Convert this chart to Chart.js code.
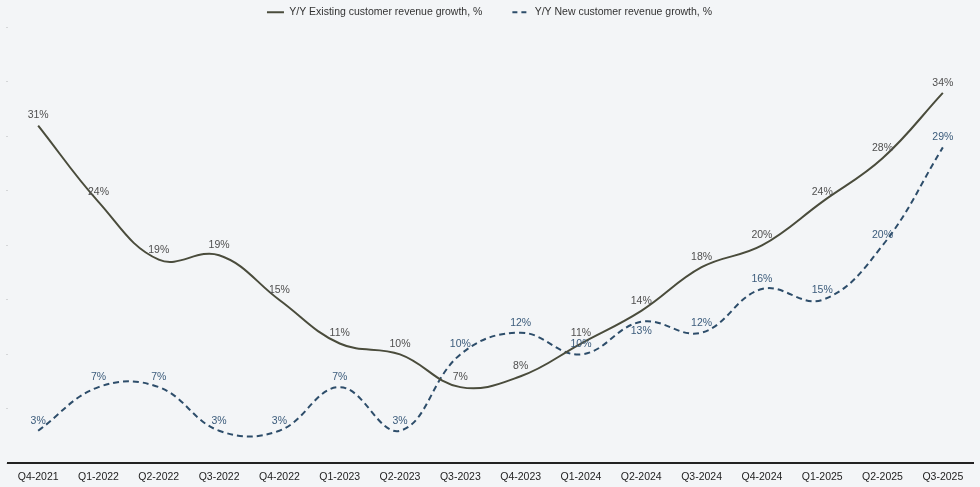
<!DOCTYPE html>
<html>
<head>
<meta charset="utf-8">
<script src="https://cdn.jsdelivr.net/npm/chart.js@4.4.1/dist/chart.umd.min.js"></script>
<style>
  html, body { margin: 0; padding: 0; background: #f3f5f7; }
  #wrap { width: 980px; height: 487px; }
</style>
</head>
<body>
<div id="wrap"><canvas id="c"></canvas></div>
<script>
const categories = ['Q4-2021','Q1-2022','Q2-2022','Q3-2022','Q4-2022','Q1-2023','Q2-2023','Q3-2023','Q4-2023','Q1-2024','Q2-2024','Q3-2024','Q4-2024','Q1-2025','Q2-2025','Q3-2025'];
const existingGrowth = [31, 24, 18.7, 19.1, 15, 11, 10, 7, 8, 11, 14, 18, 20, 24, 28, 34];
const newGrowth = [3, 7, 7, 3, 3, 7, 3, 10, 12, 10, 13, 12, 16, 15, 20, 29];
const seriesNames = ['Y/Y Existing customer revenue growth, %', 'Y/Y New customer revenue growth, %'];

const FONT = "'Liberation Sans', Arial, Helvetica, sans-serif";

const labelPlugin = {
  id: 'pointLabels',
  afterDatasetsDraw(chart) {
    const ctx = chart.ctx;
    ctx.save();
    ctx.font = '10.5px ' + FONT;
    ctx.textAlign = 'center';
    ctx.textBaseline = 'middle';
    chart.data.datasets.forEach((ds, di) => {
      const meta = chart.getDatasetMeta(di);
      ctx.fillStyle = ds.labelColor;
      meta.data.forEach((pt, i) => {
        const below = (ds.labelsBelow || []).includes(i);
        const y = below ? pt.y + 9 : pt.y - 10;
        ctx.fillText(Math.round(ds.data[i]) + '%', pt.x, y);
      });
    });
    ctx.restore();
  }
};

new Chart(document.getElementById('c'), {
  type: 'line',
  data: {
    labels: categories,
    datasets: [
      {
        label: seriesNames[0],
        data: existingGrowth,
        borderColor: '#4a4c3c',
        backgroundColor: '#4a4c3c',
        borderWidth: 2,
        pointRadius: 0,
        tension: 0.4,
        fill: false,
        labelColor: '#4f4f4f',
        legendDash: []
      },
      {
        label: seriesNames[1],
        data: newGrowth,
        borderColor: '#2d4d6a',
        backgroundColor: '#2d4d6a',
        borderWidth: 2,
        borderDash: [6, 4],
        pointRadius: 0,
        tension: 0.4,
        fill: false,
        labelColor: '#3b5b7b',
        labelsBelow: [10],
        legendDash: [5, 4]
      }
    ]
  },
  options: {
    responsive: true,
    maintainAspectRatio: false,
    animation: false,
    layout: { padding: { top: -23, left: 6, right: 7, bottom: -3 } },
    plugins: {
      legend: {
        display: true,
        position: 'top',
        align: 'center',
        labels: {
          usePointStyle: true,
          pointStyle: 'line',
          pointStyleWidth: 17,
          boxHeight: 8,
          padding: 30,
          color: '#333',
          font: { family: FONT, size: 10.5 },
          generateLabels(chart) {
            return chart.data.datasets.map((ds, i) => ({
              text: ds.label,
              fillStyle: ds.borderColor,
              strokeStyle: ds.borderColor,
              lineWidth: 2,
              lineDash: ds.legendDash,
              pointStyle: 'line',
              fontColor: '#333',
              hidden: false,
              datasetIndex: i
            }));
          }
        }
      },
      tooltip: { enabled: false }
    },
    scales: {
      x: {
        offset: true,
        grid: { display: false, drawTicks: false },
        border: { display: true, color: '#222', width: 2 },
        ticks: { color: '#222', padding: 7, font: { family: FONT, size: 10.5 }, maxRotation: 0, autoSkip: false }
      },
      y: {
        min: 0,
        max: 40,
        ticks: { display: false, stepSize: 5 },
        grid: { display: true, drawOnChartArea: false, drawTicks: true, tickLength: 2, color: '#d4d6d8' },
        border: { display: false }
      }
    }
  },
  plugins: [labelPlugin]
});
</script>
</body>
</html>
